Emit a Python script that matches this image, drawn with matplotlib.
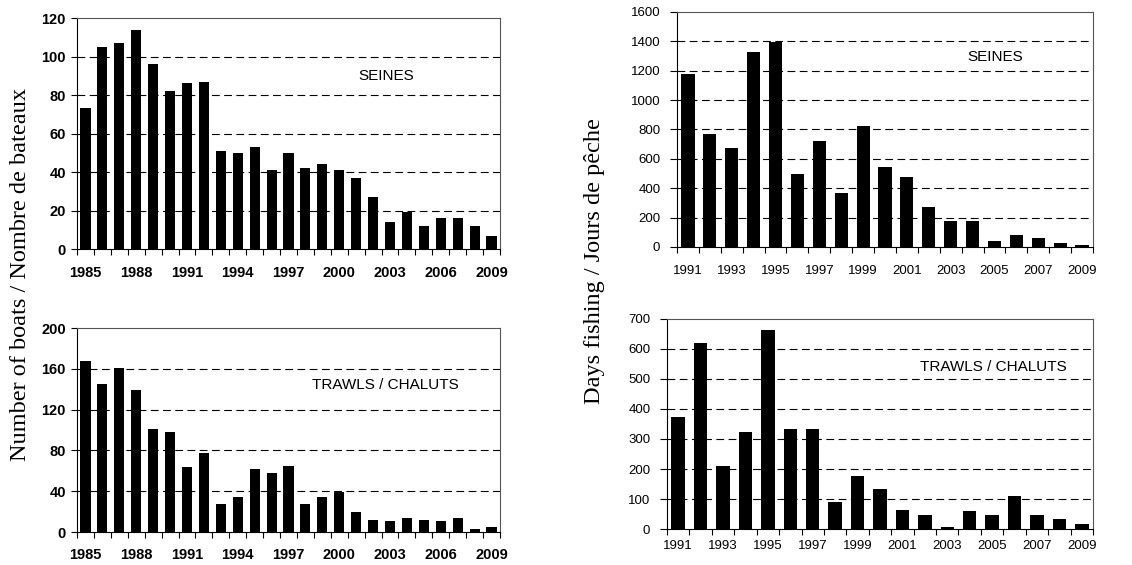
import numpy as np
import matplotlib
matplotlib.use('Agg')
from matplotlib import pyplot as plt

# boats per year, 1985-2009
boat_years = list(range(1985, 2010))
seine_boats = [73, 105, 107, 114, 96, 82, 86, 87, 51, 50, 53, 41, 50, 42, 44,
               41, 37, 27, 14, 19, 12, 16, 16, 12, 7]
trawl_boats = [168, 145, 161, 139, 101, 98, 64, 77, 27, 34, 62, 58, 65, 27, 34,
               39, 20, 12, 11, 14, 12, 11, 14, 3, 5]

# days fishing per year, 1991-2009
day_years = list(range(1991, 2010))
seine_days = [1175, 770, 675, 1325, 1395, 495, 720, 365, 825, 545, 475, 275,
              180, 180, 40, 80, 60, 25, 12]
trawl_days = [375, 620, 210, 325, 665, 335, 335, 90, 177, 135, 63, 48, 8, 60,
              48, 110, 48, 35, 18]

plt.rcParams['font.family'] = ['Liberation Sans', 'DejaVu Sans']

fig = plt.figure(figsize=(11.32, 5.65), dpi=100)


def px_axes(x0, y0, x1, y1):
    W, H = 1132, 565
    return fig.add_axes([x0 / W, 1 - y1 / H, (x1 - x0) / W, (y1 - y0) / H])


def bar_panel(ax, years, values, ymax, ystep, label_step, label, lx, ly,
              bold, fs, xpad, ytick_len, ypad):
    n = len(years)
    x = np.arange(n)
    ax.bar(x, values, width=0.6, color='black', zorder=3)
    ax.set_xlim(-0.5, n - 0.5)
    ax.set_ylim(0, ymax)
    ax.set_yticks(np.arange(0, ymax + 1, ystep))
    for yv in np.arange(ystep, ymax, ystep):
        ax.axhline(yv, color='black', lw=0.8, ls=(0, (7, 4)), zorder=1)
    ax.set_xticks(x[::label_step])
    ax.set_xticklabels([str(y) for y in years[::label_step]])
    ax.set_xticks(np.arange(-0.5, n, 1.0), minor=True)
    ax.tick_params(axis='x', which='major', length=0, pad=xpad)
    ax.tick_params(axis='x', which='minor', length=4, width=0.8, direction='out')
    ax.tick_params(axis='y', length=ytick_len, width=0.8, direction='out', pad=ypad)
    weight = 'bold' if bold else 'normal'
    for t in ax.get_xticklabels() + ax.get_yticklabels():
        t.set_fontsize(fs)
        t.set_fontweight(weight)
    for s in ax.spines.values():
        s.set_linewidth(0.8)
        s.set_color('black')
    ax.spines['top'].set_color('#555555')
    ax.spines['right'].set_color('#555555')
    ax.text(lx, ly, label, transform=ax.transAxes, ha='center', va='center',
            fontsize=11)


ax1 = px_axes(77, 18, 500, 249)
bar_panel(ax1, boat_years, seine_boats, 120, 20, 3, 'SEINES', 0.73, 0.75,
          True, 10.5, 12.5, 4, 4)

ax2 = px_axes(77, 328, 500, 532)
bar_panel(ax2, boat_years, trawl_boats, 200, 40, 3, 'TRAWLS / CHALUTS', 0.73, 0.72,
          True, 10.5, 11.5, 4, 4)

ax3 = px_axes(677, 12, 1093, 247)
bar_panel(ax3, day_years, seine_days, 1600, 200, 2, 'SEINES', 0.765, 0.81,
          False, 9.5, 13, 5, 7)

ax4 = px_axes(667, 319, 1093, 529)
bar_panel(ax4, day_years, trawl_days, 700, 100, 2, 'TRAWLS / CHALUTS', 0.765, 0.77,
          False, 9.5, 8, 5, 7)

fig.text(0.018, 0.515, 'Number of boats / Nombre de bateaux', rotation=90,
         ha='center', va='center', fontsize=17.5, family='Liberation Serif')
fig.text(0.525, 0.538, 'Days fishing / Jours de pêche', rotation=90,
         ha='center', va='center', fontsize=17.5, family='Liberation Serif')

fig.savefig('out.png', dpi=100)
